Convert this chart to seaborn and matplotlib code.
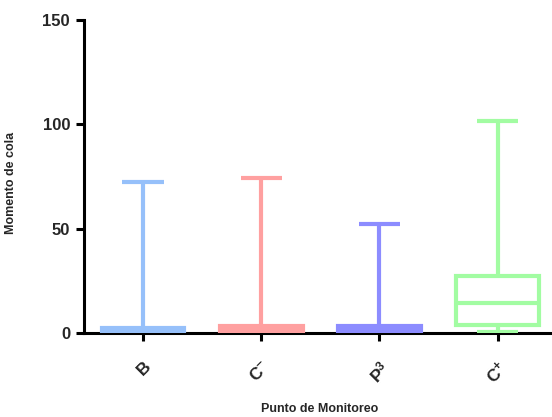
import matplotlib
matplotlib.use("Agg")
import matplotlib.pyplot as plt
import seaborn as sns
import pandas as pd
import numpy as np

# Five-number summaries (min, Q1, median, Q3, max)
categories = ["B", "C$^{-}$", "P$^{3}$", "C$^{+}$"]
B_vals = [0, 0, 0, 2.5, 72.5]
Cminus_vals = [0, 0, 0, 3.5, 74.5]
P3_vals = [0, 0, 0, 3.5, 52.5]
Cplus_vals = [0.7, 3.8, 14.4, 27.4, 101.5]
colors = ["#96C0FA", "#FFA0A0", "#8C8CFF", "#A2FCA2"]
y_ticks = [0, 50, 100, 150]

groups = [B_vals, Cminus_vals, P3_vals, Cplus_vals]
df = pd.DataFrame({
    "cat": [c for c, g in zip(categories, groups) for _ in g],
    "val": [v for g in groups for v in g],
})

sns.set_style("white")
plt.rcParams["font.family"] = ["Liberation Sans", "DejaVu Sans"]
plt.rcParams["mathtext.fontset"] = "custom"
plt.rcParams["mathtext.rm"] = "Liberation Sans:bold"
plt.rcParams["mathtext.it"] = "Liberation Sans:bold"
plt.rcParams["mathtext.bf"] = "Liberation Sans:bold"

fig = plt.figure(figsize=(5.52, 4.17), dpi=100)
ax = fig.add_axes([0.152, 0.201, 0.848, 0.751])

sns.boxplot(data=df, x="cat", y="val", hue="cat", palette=colors,
            order=categories, hue_order=categories, fill=True,
            whis=(0, 100), width=0.7, linewidth=3, legend=False,
            showfliers=False, ax=ax)

# Colour every element by its group; tiny boxes look solid, the big one is open
for i, p in enumerate(ax.patches):
    p.set_edgecolor(colors[i])
    p.set_facecolor(colors[i] if i < 3 else "white")
for line in ax.lines:
    xd = np.asarray(line.get_xdata(), dtype=float)
    if xd.size:
        idx = int(np.clip(np.round(xd.mean()), 0, 3))
        line.set_color(colors[idx])
    line.set_solid_capstyle("butt")

ax.set_ylim(0, 150)
ax.set_xlim(-0.5, 3.46)
ax.set_yticks(y_ticks)
ax.set_yticklabels([str(t) for t in y_ticks], fontsize=12, fontweight="bold")
ax.set_xticks(range(len(categories)))
ax.set_xticklabels(categories, rotation=45, ha="right", rotation_mode="anchor",
                   fontsize=12.5, fontweight="bold")

for s in ["top", "right"]:
    ax.spines[s].set_visible(False)
for s in ["left", "bottom"]:
    ax.spines[s].set_linewidth(2.2)
    ax.spines[s].set_color("black")
    ax.spines[s].set_zorder(0.5)

ax.tick_params(axis="both", direction="out", length=6, width=2.2, color="black",
               left=True, bottom=True, pad=4)
ax.tick_params(axis="x", pad=12)

ax.set_xlabel("Punto de Monitoreo", fontsize=9, fontweight="bold")
ax.set_ylabel("Momento de cola", fontsize=9, fontweight="bold")
ax.xaxis.set_label_coords(0.504, -0.222)
ax.yaxis.set_label_coords(-0.143, 0.48)

fig.savefig("out.png", dpi=100)
